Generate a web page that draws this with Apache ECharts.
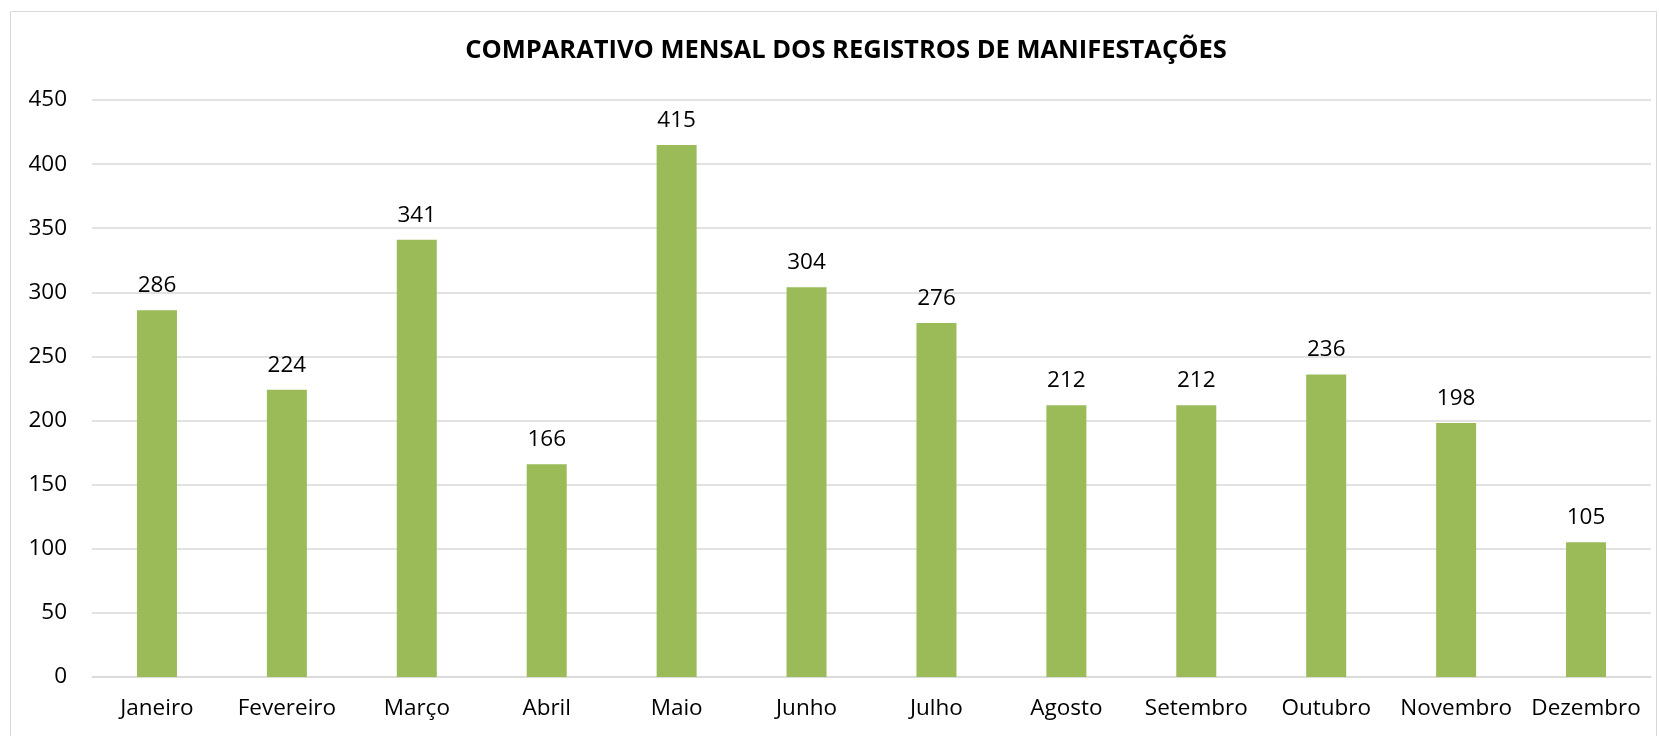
<!DOCTYPE html>
<html><head><meta charset="utf-8">
<script src="https://cdn.jsdelivr.net/npm/echarts@6/dist/echarts.min.js"></script>
<style>html,body{margin:0;padding:0;background:#fff}#c{width:1659px;height:736px}</style>
</head><body><div id="c"></div>
<script>
const categories = ['Janeiro','Fevereiro','Março','Abril','Maio','Junho','Julho','Agosto','Setembro','Outubro','Novembro','Dezembro'];
const values = [286,224,341,166,415,304,276,212,212,236,198,105];
const titleText = 'COMPARATIVO MENSAL DOS REGISTROS DE MANIFESTAÇÕES';
const chart = echarts.init(document.getElementById('c'));
chart.setOption({
  animation:false,
  backgroundColor:'#fff',
  graphic:[{type:'rect',shape:{x:10.5,y:11.5,width:1646,height:730},style:{fill:'none',stroke:'#d9d9d9',lineWidth:1},silent:true}],
  title:{text:titleText,left:841,textAlign:'center',top:33,textStyle:{fontFamily:'Open Sans',fontWeight:'bold',fontSize:25.5,color:'#000'}},
  grid:{left:92,right:8,top:100,bottom:59,containLabel:false},
  xAxis:{type:'category',data:categories,axisLine:{lineStyle:{color:'#d9d9d9',width:1.5}},axisTick:{show:false},
    axisLabel:{fontFamily:'Open Sans',fontSize:22.5,color:'#000',margin:20,interval:0}},
  yAxis:{type:'value',min:0,max:450,interval:50,axisLine:{show:false},axisTick:{show:false},
    splitLine:{lineStyle:{color:'#d9d9d9',width:1.5}},
    axisLabel:{fontFamily:'Open Sans',fontSize:22.5,color:'#000',margin:25}},
  series:[{type:'bar',data:values,barWidth:40,itemStyle:{color:'#9BBB59'},
    label:{show:true,position:'top',distance:13,fontFamily:'Open Sans',fontSize:22.5,color:'#000'}}]
});
</script></body></html>
